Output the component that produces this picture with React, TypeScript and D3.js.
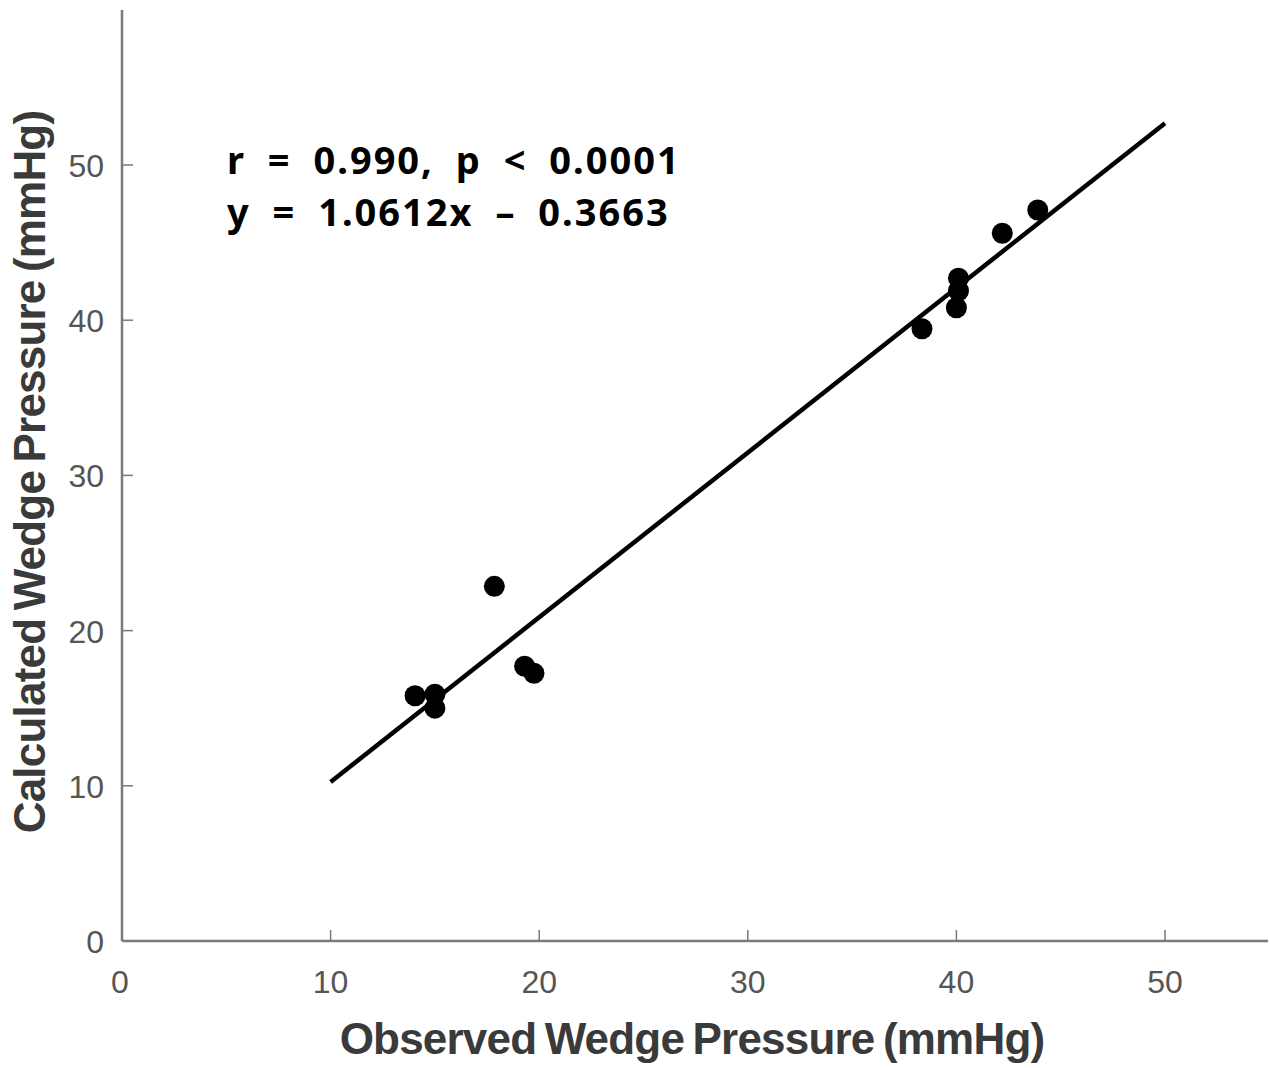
import React, { useRef, useEffect } from 'react';
import * as d3 from 'd3';

// observed vs calculated wedge pressure (mmHg)
const observed = [14.05, 15.0, 15.0, 17.85, 19.3, 19.75, 38.35, 40.0, 40.1, 40.1, 42.2, 43.9];
const calculated = [15.8, 15.9, 15.0, 22.85, 17.7, 17.25, 39.45, 40.8, 41.9, 42.7, 45.6, 47.1];
const xTicks = [0, 10, 20, 30, 40, 50];
const yTicks = [0, 10, 20, 30, 40, 50];
const slope = 1.0612;
const intercept = -0.3663;
const fitRange = [10, 50];
const statsLines = ['r = 0.990, p < 0.0001', 'y = 1.0612x \u2013 0.3663'];

const App = () => {
  const ref = useRef<SVGSVGElement | null>(null);

  useEffect(() => {
    if (!ref.current) return;
    const svg = d3.select(ref.current);
    svg.selectAll('*').remove();

    const left = 122, bottom = 941, right = 1268, top = 10;
    const x = d3.scaleLinear().domain([0, 55]).range([left, left + 55 * 20.86]);
    const y = d3.scaleLinear().domain([0, 60]).range([bottom, bottom - 60 * 15.52]);

    const axisColor = '#7a7a7a';
    const labelColor = '#555';

    // axes lines
    svg.append('line')
      .attr('x1', left).attr('x2', right).attr('y1', bottom).attr('y2', bottom)
      .attr('stroke', axisColor).attr('stroke-width', 2.5);
    svg.append('line')
      .attr('x1', left).attr('x2', left).attr('y1', top).attr('y2', bottom)
      .attr('stroke', axisColor).attr('stroke-width', 2.5);

    // ticks point inward
    svg.selectAll('.xt').data(xTicks.filter(d => d > 0)).join('line')
      .attr('x1', d => x(d)).attr('x2', d => x(d))
      .attr('y1', bottom).attr('y2', bottom - 11)
      .attr('stroke', axisColor).attr('stroke-width', 1.5);
    svg.selectAll('.yt').data(yTicks.filter(d => d > 0)).join('line')
      .attr('x1', left).attr('x2', left + 11)
      .attr('y1', d => y(d)).attr('y2', d => y(d))
      .attr('stroke', axisColor).attr('stroke-width', 1.5);

    svg.selectAll('.xl').data(xTicks).join('text')
      .attr('x', d => x(d) - (d === 0 ? 2 : 0)).attr('y', 993)
      .attr('text-anchor', 'middle')
      .attr('font-family', 'Liberation Sans, Arial, sans-serif')
      .attr('font-size', 32).attr('fill', labelColor)
      .text(d => d);
    svg.selectAll('.yl').data(yTicks).join('text')
      .attr('x', 104).attr('y', d => y(d) + 12)
      .attr('text-anchor', 'end')
      .attr('font-family', 'Liberation Sans, Arial, sans-serif')
      .attr('font-size', 32).attr('fill', labelColor)
      .text(d => d);

    // axis titles
    svg.append('text')
      .attr('x', 692).attr('y', 1054)
      .attr('text-anchor', 'middle')
      .attr('font-family', 'Liberation Sans, Arial, sans-serif')
      .attr('font-weight', 'bold').attr('font-size', 44).attr('fill', '#3a3a3a')
      .attr('letter-spacing', -0.8).attr('word-spacing', -3)
      .text('Observed Wedge Pressure (mmHg)');
    svg.append('text')
      .attr('transform', 'translate(45,472) rotate(-90)')
      .attr('text-anchor', 'middle')
      .attr('font-family', 'Liberation Sans, Arial, sans-serif')
      .attr('font-weight', 'bold').attr('font-size', 44).attr('fill', '#3a3a3a')
      .attr('letter-spacing', -0.8).attr('word-spacing', -3)
      .text('Calculated Wedge Pressure (mmHg)');

    // regression line
    svg.append('line')
      .attr('x1', x(fitRange[0])).attr('y1', y(slope * fitRange[0] + intercept))
      .attr('x2', x(fitRange[1])).attr('y2', y(slope * fitRange[1] + intercept))
      .attr('stroke', '#000').attr('stroke-width', 4.5);

    // points
    svg.selectAll('.pt').data(observed).join('circle')
      .attr('cx', d => x(d))
      .attr('cy', (d, i) => y(calculated[i]))
      .attr('r', 10.5)
      .attr('fill', '#000');

    // stats text
    svg.selectAll('.st').data(statsLines).join('text')
      .attr('x', 227).attr('y', (d, i) => 174 + i * 52)
      .attr('font-family', 'Noto Sans, Open Sans, sans-serif')
      .attr('font-weight', 'bold').attr('font-size', 38).attr('fill', '#000')
      .attr('letter-spacing', 2).attr('word-spacing', 10)
      .attr('xml:space', 'preserve')
      .text(d => d);
  }, []);

  return (
    <div style={{ position: 'absolute', left: 0, top: 0 }}>
      <svg ref={ref} width={1270} height={1068} style={{ display: 'block', background: '#fff' }} />
    </div>
  );
};

export default App;
